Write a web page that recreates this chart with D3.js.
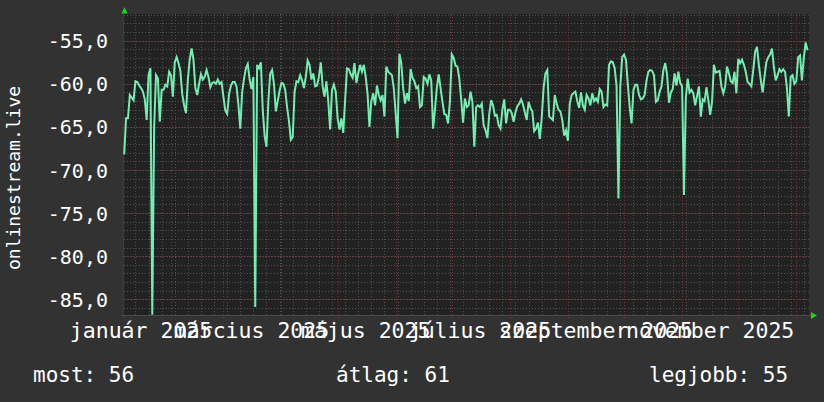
<!DOCTYPE html>
<html>
<head>
<meta charset="utf-8">
<script src="https://cdn.jsdelivr.net/npm/d3@7"></script>
<style>
  html, body { margin: 0; padding: 0; background: #323232; }
  svg { display: block; }
  text { font-family: 'DejaVu Sans Mono', monospace; fill: #ffffff; }
</style>
</head>
<body>
<div id="chart"></div>
<script>
// daily values, starting 2025-01-07
const startDate = new Date(2025, 0, 7)
const endDate = new Date(2026, 0, 8)
const values = [
  -68.2, -64.0, -64.0, -61.3, -61.6, -61.9, -59.7, -59.8, -60.2, -60.5,
  -60.9, -61.8, -64.2, -59.0, -58.2, -86.8, -65.0, -59.0, -59.4, -64.4,
  -60.7, -60.7, -60.1, -60.3, -58.6, -59.0, -61.5, -57.5, -56.9, -57.6,
  -58.5, -61.2, -62.5, -63.4, -59.5, -57.2, -55.9, -57.2, -60.5, -61.3,
  -60.0, -58.9, -59.5, -59.2, -58.4, -59.2, -60.4, -59.9, -59.8, -60.0,
  -59.5, -60.0, -59.8, -61.5, -63.1, -63.5, -61.2, -60.2, -59.8, -59.8,
  -60.3, -62.4, -65.2, -61.0, -59.4, -58.2, -57.7, -59.5, -60.6, -59.2,
  -85.9, -57.8, -58.2, -57.5, -63.0, -66.0, -67.3, -62.0, -58.8, -58.4,
  -60.0, -63.2, -62.0, -60.8, -59.9, -60.0, -60.7, -62.7, -64.3, -66.5,
  -66.2, -61.0, -59.7, -59.8, -59.0, -59.6, -60.5, -59.2, -57.3, -57.8,
  -59.5, -58.8, -60.3, -60.2, -59.2, -57.5, -60.3, -61.5, -59.7, -62.0,
  -65.3, -60.7, -60.1, -60.9, -64.0, -65.3, -64.0, -65.7, -61.9, -58.2,
  -58.3, -58.9, -59.3, -57.6, -59.9, -58.8, -57.8, -58.6, -57.8, -59.2,
  -61.2, -65.0, -62.0, -61.1, -62.5, -60.2, -61.3, -61.9, -61.3, -63.8,
  -58.0, -58.6, -58.8, -59.0, -60.5, -63.4, -66.3, -56.5, -57.6, -60.5,
  -62.3, -61.1, -62.0, -58.3, -59.3, -59.7, -60.5, -60.3, -62.7, -62.5,
  -59.2, -59.4, -60.0, -58.9, -59.6, -65.2, -63.0, -60.4, -58.9, -60.5,
  -62.1, -63.5, -63.6, -64.6, -62.0, -56.6, -57.0, -57.9, -58.0, -59.4,
  -61.8, -64.5, -61.7, -62.7, -62.5, -60.9, -62.1, -67.3, -62.7, -62.5,
  -62.7, -62.3, -64.8, -65.4, -66.3, -63.5, -61.9, -62.5, -63.7, -63.6,
  -64.8, -65.2, -63.0, -61.8, -64.6, -63.0, -63.0, -63.4, -64.4, -63.3,
  -62.6, -62.3, -61.8, -62.4, -63.3, -64.2, -62.1, -62.8, -63.2, -65.5,
  -65.2, -64.5, -66.4, -64.0, -60.5, -58.8, -58.4, -63.8, -64.0, -64.2,
  -61.3, -62.3, -63.0, -63.2, -64.2, -66.0, -65.4, -66.6, -62.3, -61.3,
  -61.1, -60.9, -62.0, -62.8, -61.0, -62.5, -63.0, -61.3, -61.7, -62.5,
  -61.1, -62.0, -61.7, -62.1, -60.6, -60.9, -62.7, -62.4, -62.5, -57.8,
  -57.4, -57.5, -58.2, -60.3, -73.3, -60.3, -56.9, -56.6, -57.2, -60.0,
  -62.7, -64.6, -60.7, -60.1, -60.1, -61.3, -61.8, -61.7, -61.3, -59.6,
  -58.6, -58.4, -58.5, -59.0, -62.1, -61.9, -60.9, -60.3, -58.4, -57.6,
  -59.0, -62.2, -61.0, -60.6, -58.8, -60.2, -58.6, -59.9, -60.3, -72.9,
  -61.6, -59.4, -61.0, -60.7, -61.1, -62.5, -61.4, -60.3, -63.8, -61.8,
  -62.0, -60.4, -61.9, -63.6, -62.1, -57.8, -58.7, -58.6, -58.5, -60.3,
  -61.1, -60.3, -58.0, -58.8, -59.7, -59.9, -58.6, -61.1, -57.1, -57.6,
  -57.2, -57.8, -58.6, -59.8, -60.0, -60.3, -58.4, -56.3, -55.7, -57.8,
  -59.5, -61.0, -59.2, -57.5, -56.9, -56.6, -55.9, -58.0, -59.6, -59.0,
  -58.3, -58.6, -58.3, -58.6, -60.5, -63.8, -59.2, -59.0, -60.0, -59.7,
  -56.9, -56.7, -59.6, -57.0, -55.2, -56.1
]

const yMajorTicks = [-85, -80, -75, -70, -65, -60, -55]
const xLabelTexts = ['január 2025', 'március 2025', 'május 2025', 'július 2025', 'szeptember 2025', 'november 2025']
const xLabelMonths = [0, 2, 4, 6, 8, 10]
const yTitle = 'onlinestream.live'
const legendItems = ['most: 56', 'átlag: 61', 'legjobb: 55']

const data = values.map((v, i) => ({ date: d3.timeDay.offset(startDate, i), value: v }))

const width = 824
const height = 402

const svg = d3
  .select('#chart')
  .append('svg')
  .attr('width', width)
  .attr('height', height)

svg.append('rect').attr('width', width).attr('height', height).attr('fill', '#323232')

const xPositionScale = d3.scaleTime().domain([startDate, endDate]).range([124.2, 809.4])
const yPositionScale = d3.scaleLinear().domain([-86.82, -51.9]).range([315, 14])

const x0 = 124
const x1 = 809
const y0 = 315
const y1 = 14

// plot canvas
svg
  .append('rect')
  .attr('x', x0)
  .attr('y', y1)
  .attr('width', x1 - x0)
  .attr('height', y0 - y1)
  .attr('fill', '#222222')

// minor grid
const minorY = d3.range(-86, -51)
svg
  .append('g')
  .selectAll('line')
  .data(minorY)
  .join('line')
  .attr('x1', x0)
  .attr('x2', x1)
  .attr('y1', d => Math.round(yPositionScale(d)) + 0.5)
  .attr('y2', d => Math.round(yPositionScale(d)) + 0.5)
  .attr('stroke', '#505050')
  .attr('stroke-dasharray', '1,2')

const weeks = d3.timeMonday.range(startDate, endDate)
svg
  .append('g')
  .selectAll('line')
  .data(weeks)
  .join('line')
  .attr('x1', d => Math.round(xPositionScale(d)) + 0.5)
  .attr('x2', d => Math.round(xPositionScale(d)) + 0.5)
  .attr('y1', y1)
  .attr('y2', y0 + 2)
  .attr('stroke', '#505050')
  .attr('stroke-dasharray', '1,2')

// major grid
svg
  .append('g')
  .selectAll('line')
  .data(yMajorTicks)
  .join('line')
  .attr('x1', x0 - 2)
  .attr('x2', x1)
  .attr('y1', d => Math.round(yPositionScale(d)) + 0.5)
  .attr('y2', d => Math.round(yPositionScale(d)) + 0.5)
  .attr('stroke', '#7a3434')
  .attr('stroke-dasharray', '1,2')

const months = d3.timeMonth.range(startDate, endDate)
svg
  .append('g')
  .selectAll('line')
  .data(months)
  .join('line')
  .attr('x1', d => Math.round(xPositionScale(d)) + 0.5)
  .attr('x2', d => Math.round(xPositionScale(d)) + 0.5)
  .attr('y1', y1)
  .attr('y2', y0 + 3)
  .attr('stroke', '#7a3434')
  .attr('stroke-dasharray', '1,2')

// axis lines
svg
  .append('line')
  .attr('x1', x0 - 0.5)
  .attr('x2', x0 - 0.5)
  .attr('y1', y1 - 2)
  .attr('y2', y0 + 3)
  .attr('stroke', '#3c3c3c')
svg
  .append('line')
  .attr('x1', x0 - 3)
  .attr('x2', x1 + 2)
  .attr('y1', y0 + 0.5)
  .attr('y2', y0 + 0.5)
  .attr('stroke', '#4a4a4a')

// arrows
svg
  .append('path')
  .attr('d', 'M121.5,13.5 L124.5,7 L127.5,13.5 Z')
  .attr('fill', '#18d818')
svg
  .append('path')
  .attr('d', 'M811,312 L817,315.5 L811,319 Z')
  .attr('fill', '#18d818')

// data line
const line = d3
  .line()
  .x(d => xPositionScale(d.date))
  .y(d => yPositionScale(d.value))

svg
  .append('path')
  .datum(data)
  .attr('d', line)
  .attr('fill', 'none')
  .attr('stroke', '#72eeb2')
  .attr('stroke-width', 2)

// y axis labels
const huFormat = d3.formatLocale({ decimal: ',', thousands: ' ', grouping: [3], currency: ['', ''], minus: '-' }).format('.1f')
const yAxis = d3
  .axisLeft(yPositionScale)
  .tickValues(yMajorTicks)
  .tickSize(0)
  .tickPadding(0)
  .tickFormat(huFormat)

const yAxisG = svg
  .append('g')
  .attr('transform', 'translate(108,0)')
  .call(yAxis)
yAxisG.select('.domain').remove()
yAxisG
  .selectAll('text')
  .attr('dy', null)
  .attr('y', 7)
  .style('font-family', "'DejaVu Sans Mono', monospace")
  .style('font-size', '20px')
  .attr('fill', '#ffffff')

// x labels, centred in the middle of their month (they overlap, as in rrdtool)
svg
  .append('g')
  .selectAll('text')
  .data(xLabelTexts)
  .join('text')
  .attr('x', (d, i) => xPositionScale(d3.timeDay.offset(new Date(2025, xLabelMonths[i], 1), 15)))
  .attr('y', 338)
  .attr('text-anchor', 'middle')
  .style('font-size', '21.5px')
  .text(d => d)

// y title
svg
  .append('text')
  .attr('transform', 'translate(20,178) rotate(-90)')
  .attr('text-anchor', 'middle')
  .style('font-size', '18px')
  .text(yTitle)

// legend
const legendX = [33, 336, 649]
svg
  .append('g')
  .selectAll('text')
  .data(legendItems)
  .join('text')
  .attr('x', (d, i) => legendX[i])
  .attr('y', 382)
  .style('font-size', '21px')
  .text(d => d)
</script>
</body>
</html>
